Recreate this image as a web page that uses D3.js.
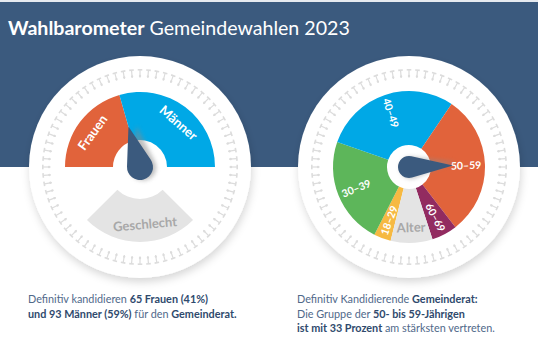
<!DOCTYPE html>
<html><head><meta charset="utf-8">
<script src="https://cdn.jsdelivr.net/npm/d3@7"></script>
<style>
html,body{margin:0;padding:0;background:#fff;}
svg{display:block;font-family:Lato,"Open Sans",sans-serif;}
</style></head><body>
<svg id="c" width="538" height="337"></svg>
<script>
// ---- data ----
const titleBold = "Wahlbarometer";
const titleRest = "Gemeindewahlen 2023";
const genderCategories = ["Frauen", "Männer"];
const genderCounts = [65, 93];
const genderPercent = [41, 59];
const genderTitle = "Geschlecht";
const ageCategories = ["18–29", "30–39", "40–49", "50–59", "60–69"];
const agePercent = [4, 25, 32, 33, 6];
const ageTitle = "Alter";
const footLeft = [
  [["Definitiv kandidieren ", false], ["65 Frauen (41%)", true]],
  [["und 93 Männer (59%)", true], [" für den ", false], ["Gemeinderat.", true]]
];
const footRight = [
  [["Definitiv Kandidierende ", false], ["Gemeinderat:", true]],
  [["Die Gruppe der ", false], ["50- bis 59-Jährigen", true]],
  [["ist mit 33 Prozent", true], [" am stärksten vertreten.", false]]
];

// ---- styles ----
const BAND = "#3b5a7e";
const ORANGE = "#e1633b", BLUE = "#00a8e6", GREEN = "#5db65a", YELLOW = "#f6b942", PURPLE = "#922b60";
const GREY = "#e4e4e4", GREYTXT = "#a8a8a8";
const deg = Math.PI / 180;

const svg = d3.select("#c");
const defs = svg.append("defs");
const sh = defs.append("filter").attr("id", "cshadow").attr("x", "-20%").attr("y", "-20%").attr("width", "140%").attr("height", "140%");
sh.append("feDropShadow").attr("dx", 1).attr("dy", 4).attr("stdDeviation", 4).attr("flood-color", "#000").attr("flood-opacity", 0.16);
const nb = defs.append("filter").attr("id", "nblur").attr("x", "-50%").attr("y", "-50%").attr("width", "200%").attr("height", "200%");
nb.append("feGaussianBlur").attr("stdDeviation", 2);

// background
svg.append("rect").attr("x", 0).attr("y", 0).attr("width", 538).attr("height", 3).attr("fill", "#e6eaef");
svg.append("rect").attr("x", 0).attr("y", 2).attr("width", 538).attr("height", 165).attr("fill", BAND);

// title
const title = svg.append("text").attr("x", 8).attr("y", 35).attr("fill", "#fff").attr("font-size", 22);
title.append("tspan").attr("font-weight", 700).text(titleBold);
title.append("tspan").attr("font-weight", 400).text(" " + titleRest);
{
  const w = title.node().getBBox().width;
  title.attr("font-size", 22 * 342 / w);
}

const centers = [[140, 167], [409, 167]];
const R = 111;

centers.forEach(([cx, cy]) => {
  const g = svg.append("g").attr("transform", `translate(${cx},${cy})`);
  g.append("circle").attr("r", R).attr("fill", "#fff").attr("filter", "url(#cshadow)");
  const ticks = d3.range(0, 360, 5);
  const tg = g.selectAll("g.tick").data(ticks).join("g").attr("transform", d => `rotate(${d})`).attr("fill", "#dcdcdc").attr("stroke", "none");
  tg.append("rect").attr("x", -0.6).attr("y", -97).attr("width", 1.2).attr("height", 7.5);
  tg.append("rect").attr("x", -2.3).attr("y", -98).attr("width", 4.6).attr("height", 1.6);
  tg.append("circle").attr("cx", 0).attr("cy", -91).attr("r", 1.2);
});

function needlePath(r, L) {
  const y = -r * r / L, x = r * Math.sqrt(1 - (r * r) / (L * L));
  return `M0,${-L}L${x},${y}A${r},${r} 0 1 1 ${-x},${y}Z`;
}

// ---- left gauge: Geschlecht ----
{
  const [cx, cy] = centers[0];
  const g = svg.append("g").attr("transform", `translate(${cx},${cy})`);
  const pie = d3.pie().sort(null).startAngle(-90 * deg).endAngle(90 * deg);
  const arcs = pie(genderCounts);
  const arc = d3.arc().innerRadius(27).outerRadius(75);
  const colors = [ORANGE, BLUE];
  g.selectAll("path.seg").data(arcs).join("path").attr("d", arc).attr("fill", (d, i) => colors[i]);
  // grey label sector
  g.append("path").attr("d", d3.arc().innerRadius(32).outerRadius(75).startAngle(135 * deg).endAngle(225 * deg)()).attr("fill", GREY);
  g.append("text").attr("transform", `rotate(-5) translate(0,${57})`).attr("text-anchor", "middle").attr("dominant-baseline", "central")
    .attr("font-weight", 700).attr("font-size", 13).attr("fill", GREYTXT).text(genderTitle);
  // labels
  g.selectAll("text.lab").data(arcs).join("text")
    .attr("transform", d => {
      const a = (d.startAngle + d.endAngle) / 2 / deg + (d.index === 1 ? 4 : -1);
      return `rotate(${a}) translate(0,${-59})`;
    })
    .attr("text-anchor", "middle").attr("dominant-baseline", "central")
    .attr("font-weight", 700).attr("font-size", 13).attr("fill", "#fff").text((d, i) => genderCategories[i]);
  // needle at boundary
  const na = arcs[0].endAngle / deg;
  g.append("path").attr("d", needlePath(13, 42)).attr("transform", `rotate(${na + 7}) translate(3,1)`).attr("fill", "#8a8a8a").attr("opacity", 0.55).attr("filter", "url(#nblur)");
  g.append("path").attr("d", needlePath(13, 42)).attr("transform", `rotate(${na})`).attr("fill", BAND);
}

// ---- right gauge: Alter ----
{
  const [cx, cy] = centers[1];
  const g = svg.append("g").attr("transform", `translate(${cx},${cy})`);
  const gap = 32, start = 194;
  const pie = d3.pie().sort(null).startAngle(start * deg).endAngle((start + 360 - gap) * deg);
  const arcs = pie(agePercent);
  const arc = d3.arc().innerRadius(22).outerRadius(76);
  const colors = [YELLOW, GREEN, BLUE, ORANGE, PURPLE];
  g.selectAll("path.seg").data(arcs).join("path").attr("d", arc).attr("fill", (d, i) => colors[i]);
  g.append("path").attr("d", d3.arc().innerRadius(22).outerRadius(76).startAngle((start - gap) * deg).endAngle(start * deg)()).attr("fill", GREY);
  const ga = start - gap / 2;
  g.append("text").attr("transform", `rotate(${ga}) translate(0,${-60}) rotate(180)`).attr("text-anchor", "middle").attr("dominant-baseline", "central")
    .attr("font-weight", 700).attr("font-size", 13).attr("fill", GREYTXT).text(ageTitle);
  g.selectAll("text.lab").data(arcs).join("text")
    .attr("transform", d => {
      let a = ((d.startAngle + d.endAngle) / 2 / deg) % 360;
      const rot = (a > 0 && a < 180) ? -90 : 90;
      return `rotate(${a}) translate(0,${-57}) rotate(${rot})`;
    })
    .attr("text-anchor", "middle").attr("dominant-baseline", "central")
    .attr("font-weight", 700).attr("font-size", 10.5).attr("fill", "#fff").text((d, i) => ageCategories[i]);
  // needle at largest group
  const maxI = d3.maxIndex(agePercent);
  const na = ((arcs[maxI].startAngle + arcs[maxI].endAngle) / 2 / deg) % 360;
  g.append("path").attr("d", needlePath(11, 44)).attr("transform", `rotate(${na - 6}) translate(1,-2)`).attr("fill", "#8a8a8a").attr("opacity", 0.5).attr("filter", "url(#nblur)");
  g.append("path").attr("d", needlePath(11, 44)).attr("transform", `rotate(${na})`).attr("fill", BAND);
}

// ---- footer ----
function block(x, y0, lines) {
  const texts = [];
  lines.forEach((line, li) => {
    const t = svg.append("text").attr("x", x).attr("y", y0 + li * 14.5).attr("font-size", 11);
    line.forEach(([s, b]) => {
      t.append("tspan").attr("font-weight", b ? 700 : 400).attr("fill", b ? "#2f4a6d" : "#50698a").text(s);
    });
    texts.push(t);
  });
  return texts;
}
const lt = block(28, 303, footLeft);
const rt = block(297, 303, footRight);
{
  const w = rt[2].node().getBBox().width;
  const fs = 11 * 198 / w;
  lt.concat(rt).forEach(t => t.attr("font-size", fs));
}
</script>
</body></html>
